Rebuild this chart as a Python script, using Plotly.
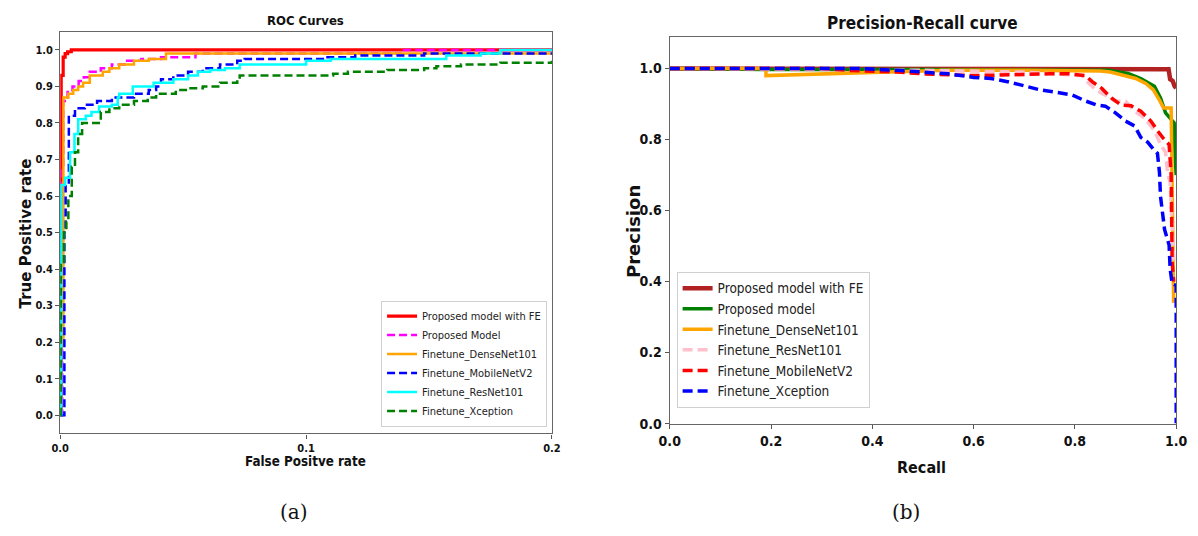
import plotly.graph_objects as go

# ---------------- ROC data (a) ----------------
roc_fe_fpr = [0, 0.0004, 0.0012, 0.002, 0.003, 0.0045, 0.2]
roc_fe_tpr = [0, 0.93, 0.98, 0.99, 0.995, 1.0, 1.0]

roc_pm_fpr = [0, 0.0008, 0.0012, 0.003, 0.005, 0.0075, 0.0096, 0.012, 0.0165, 0.021, 0.026, 0.033, 0.041, 0.055, 0.139, 0.2]
roc_pm_tpr = [0, 0.68, 0.86, 0.885, 0.9, 0.915, 0.925, 0.94, 0.95, 0.96, 0.97, 0.975, 0.98, 0.99, 1.0, 1.0]

roc_dn_fpr = [0, 0, 0.0013, 0.0033, 0.0053, 0.0073, 0.0093, 0.012, 0.0173, 0.02, 0.024, 0.03, 0.036, 0.043, 0.2]
roc_dn_tpr = [0, 0.19, 0.87, 0.88, 0.89, 0.9, 0.91, 0.93, 0.94, 0.95, 0.96, 0.97, 0.975, 0.99, 0.99]

roc_mn_fpr = [0, 0.0017, 0.0022, 0.0035, 0.006, 0.01, 0.015, 0.021, 0.03, 0.036, 0.039, 0.041, 0.046, 0.052, 0.058, 0.065, 0.072, 0.075, 0.108, 0.12, 0.148, 0.2]
roc_mn_tpr = [0, 0.5, 0.63, 0.82, 0.84, 0.85, 0.86, 0.87, 0.88, 0.89, 0.9, 0.92, 0.93, 0.94, 0.95, 0.96, 0.97, 0.975, 0.98, 0.985, 0.99, 0.99]

roc_rn_fpr = [0, 0.0004, 0.002, 0.004, 0.0058, 0.0073, 0.0104, 0.0127, 0.0158, 0.021, 0.0234, 0.024, 0.0295, 0.038, 0.046, 0.052, 0.056, 0.061, 0.067, 0.073, 0.10, 0.11, 0.157, 0.171, 0.179, 0.2]
roc_rn_tpr = [0, 0.63, 0.65, 0.72, 0.77, 0.81, 0.82, 0.83, 0.845, 0.85, 0.87, 0.88, 0.9, 0.91, 0.92, 0.93, 0.94, 0.945, 0.95, 0.96, 0.97, 0.975, 0.985, 0.99, 1.0, 1.0]

roc_xc_fpr = [0, 0.0002, 0.0015, 0.0025, 0.0033, 0.0047, 0.006, 0.0073, 0.0089, 0.0165, 0.02, 0.024, 0.03, 0.0356, 0.039, 0.047, 0.053, 0.058, 0.065, 0.072, 0.073, 0.111, 0.117, 0.133, 0.148, 0.153, 0.163, 0.179, 0.2]
roc_xc_tpr = [0, 0.42, 0.5, 0.53, 0.6, 0.68, 0.72, 0.77, 0.8, 0.83, 0.84, 0.85, 0.86, 0.87, 0.88, 0.89, 0.895, 0.9, 0.91, 0.92, 0.93, 0.935, 0.94, 0.945, 0.95, 0.955, 0.96, 0.965, 0.97]

roc_names = ["Proposed model with FE", "Proposed Model", "Finetune_DenseNet101",
             "Finetune_MobileNetV2", "Finetune_ResNet101", "Finetune_Xception"]
roc_x_ticks = [0.0, 0.1, 0.2]
roc_y_ticks = [0.0, 0.1, 0.2, 0.3, 0.4, 0.5, 0.6, 0.7, 0.8, 0.9, 1.0]

# ---------------- Precision-Recall data (b) ----------------
pr_fe_rec = [0, 0.83, 0.985, 0.988, 0.993, 0.997, 1.0]
pr_fe_pre = [1.0, 1.0, 0.998, 0.97, 0.965, 0.95, 0.945]

pr_pm_rec = [0, 0.2, 0.5, 0.7, 0.85, 0.866, 0.905, 0.93, 0.957, 0.969, 0.979, 0.988, 0.996, 0.998, 1.0]
pr_pm_pre = [1.0, 0.997, 0.997, 0.997, 0.996, 0.995, 0.986, 0.972, 0.95, 0.917, 0.875, 0.86, 0.847, 0.75, 0.70]

pr_dn_rec = [0, 0.19, 0.19, 0.3, 0.45, 0.55, 0.7, 0.85, 0.87, 0.9, 0.92, 0.94, 0.955, 0.968, 0.975, 0.99, 0.993, 0.995]
pr_dn_pre = [1.0, 1.0, 0.98, 0.985, 0.99, 0.995, 0.995, 0.993, 0.99, 0.98, 0.972, 0.958, 0.94, 0.908, 0.889, 0.889, 0.6, 0.34]

pr_rn_rec = [0, 0.3, 0.5, 0.7, 0.75, 0.8, 0.814, 0.828, 0.841, 0.86, 0.88, 0.9, 0.918, 0.938, 0.957, 0.969, 0.979, 0.983, 0.988, 0.992, 0.996]
pr_rn_pre = [1.0, 0.998, 0.995, 0.99, 0.985, 0.982, 0.98, 0.958, 0.94, 0.925, 0.908, 0.908, 0.88, 0.86, 0.825, 0.786, 0.764, 0.705, 0.68, 0.55, 0.45]

pr_mn_rec = [0, 0.3, 0.35, 0.45, 0.5, 0.6, 0.75, 0.789, 0.821, 0.834, 0.853, 0.872, 0.891, 0.911, 0.93, 0.95, 0.963, 0.973, 0.986, 0.99, 0.992, 0.995]
pr_mn_pre = [1.0, 1.0, 0.995, 0.99, 0.985, 0.98, 0.985, 0.985, 0.98, 0.963, 0.944, 0.917, 0.897, 0.895, 0.88, 0.852, 0.825, 0.806, 0.786, 0.7, 0.455, 0.4]

pr_xc_rec = [0, 0.3, 0.38, 0.45, 0.55, 0.6, 0.634, 0.667, 0.698, 0.731, 0.764, 0.795, 0.822, 0.841, 0.86, 0.88, 0.9, 0.918, 0.93, 0.944, 0.957, 0.963, 0.967, 0.969, 0.977, 0.986, 0.988, 0.992, 0.998, 1.0, 1.0]
pr_xc_pre = [1.0, 1.0, 1.0, 0.995, 0.985, 0.975, 0.972, 0.963, 0.952, 0.94, 0.933, 0.925, 0.908, 0.898, 0.894, 0.875, 0.852, 0.838, 0.806, 0.792, 0.769, 0.761, 0.706, 0.64, 0.547, 0.503, 0.436, 0.394, 0.39, 0.39, 0.0]

pr_names = ["Proposed model with FE", "Proposed model", "Finetune_DenseNet101",
            "Finetune_ResNet101", "Finetune_MobileNetV2", "Finetune_Xception"]
pr_x_ticks = [0.0, 0.2, 0.4, 0.6, 0.8, 1.0]
pr_y_ticks = [0.0, 0.2, 0.4, 0.6, 0.8, 1.0]

# The page body has an 8px margin, so the figure is sized to fill the rest of
# the 1198x536 window and screen positions are converted to paper fractions.
OFF = 8
W, H = 1198 - OFF, 536 - OFF


def px(sx):
    return (sx - OFF) / W


def py(sy):
    return 1 - (sy - OFF) / H


SANS = "DejaVu Sans Condensed, DejaVu Sans, sans-serif"
SANS_B = "DejaVu Sans, sans-serif"

fig = go.Figure()

roc_series = [
    (roc_fe_fpr, roc_fe_tpr, "red", "solid", 3.2),
    (roc_pm_fpr, roc_pm_tpr, "magenta", "8px,4px", 2.5),
    (roc_dn_fpr, roc_dn_tpr, "orange", "solid", 2.5),
    (roc_mn_fpr, roc_mn_tpr, "blue", "8px,4px", 2.5),
    (roc_rn_fpr, roc_rn_tpr, "cyan", "solid", 2.5),
    (roc_xc_fpr, roc_xc_tpr, "green", "8px,4px", 2.5),
]
for name, (xs, ys, col, dash, w) in zip(roc_names, roc_series):
    fig.add_trace(go.Scatter(x=xs, y=ys, mode="lines", name=name,
                             line=dict(color=col, dash=dash, width=w, shape="hv"),
                             xaxis="x", yaxis="y", legend="legend"))

pr_series = [
    (pr_fe_rec, pr_fe_pre, "firebrick", "solid", 4.5),
    (pr_pm_rec, pr_pm_pre, "green", "solid", 3.5),
    (pr_dn_rec, pr_dn_pre, "orange", "solid", 3.5),
    (pr_rn_rec, pr_rn_pre, "pink", "10px,5px", 3.5),
    (pr_mn_rec, pr_mn_pre, "red", "10px,5px", 3.5),
    (pr_xc_rec, pr_xc_pre, "blue", "10px,5px", 3.5),
]
for name, (xs, ys, col, dash, w) in zip(pr_names, pr_series):
    fig.add_trace(go.Scatter(x=xs, y=ys, mode="lines", name=name,
                             line=dict(color=col, dash=dash, width=w),
                             xaxis="x2", yaxis="y2", legend="legend2"))

axis_common = dict(showline=True, linecolor="#666", linewidth=1.2, mirror=True,
                   ticks="outside", ticklen=4, tickcolor="#555", showgrid=False,
                   zeroline=False)

fig.update_layout(
    width=W, height=H,
    margin=dict(l=0, r=0, t=0, b=0),
    paper_bgcolor="white", plot_bgcolor="white",
    xaxis=dict(domain=[px(50), px(551)], range=[0, 0.2], tickvals=roc_x_ticks,
               ticktext=["%.1f" % v for v in roc_x_ticks],
               tickfont=dict(family=SANS, size=11, color="#111", weight="bold"),
               anchor="y", **axis_common),
    yaxis=dict(domain=[py(440), py(32)], range=[-0.05, 1.05], tickvals=roc_y_ticks,
               ticktext=["%.1f" % v for v in roc_y_ticks],
               tickfont=dict(family=SANS, size=11, color="#111", weight="bold"),
               anchor="x", **axis_common),
    xaxis2=dict(domain=[px(671), px(1187)], range=[0, 1.0], tickvals=pr_x_ticks,
                ticktext=["%.1f" % v for v in pr_x_ticks],
                tickfont=dict(family=SANS, size=14, color="#111", weight="bold"),
                anchor="y2", **axis_common),
    yaxis2=dict(domain=[py(430), py(37)], range=[0, 1.09], tickvals=pr_y_ticks,
                ticktext=["%.1f" % v for v in pr_y_ticks],
                tickfont=dict(family=SANS, size=14, color="#111", weight="bold"),
                anchor="x2", **axis_common),
    legend=dict(x=px(546), y=py(433), xanchor="right", yanchor="bottom",
                bgcolor="rgba(255,255,255,0.9)", bordercolor="#d0d0d0", borderwidth=1,
                font=dict(family=SANS, size=11, color="#222"), tracegroupgap=0,
                itemwidth=30),
    legend2=dict(x=px(678), y=py(276), xanchor="left", yanchor="top",
                 bgcolor="rgba(255,255,255,0.9)", bordercolor="#d0d0d0", borderwidth=1,
                 font=dict(family=SANS, size=13.5, color="#222"), tracegroupgap=0,
                 itemwidth=30),
    showlegend=True,
)

ann = [
    dict(text="ROC Curves", sx=300, sy=21, size=13),
    dict(text="Precision-Recall curve", sx=929, sy=23, size=17),
    dict(text="False Positve rate", sx=300, sy=468, size=13.3),
    dict(text="Recall", sx=928, sy=475, size=16),
]
for a in ann:
    fig.add_annotation(text=a["text"], x=px(a["sx"]), y=py(a["sy"]), xref="paper", yref="paper",
                       xanchor="center", yanchor="middle", showarrow=False,
                       font=dict(family=SANS, size=a["size"], color="#111", weight="bold"))

fig.add_annotation(text="True Positive rate", x=px(15), y=py(237), xref="paper", yref="paper",
                   textangle=-90, showarrow=False, xanchor="center", yanchor="middle",
                   font=dict(family=SANS_B, size=15, color="#111", weight="bold"))
fig.add_annotation(text="Precision", x=px(634), y=py(235), xref="paper", yref="paper",
                   textangle=-90, showarrow=False, xanchor="center", yanchor="middle",
                   font=dict(family=SANS_B, size=18, color="#111", weight="bold"))

for t, sx in [("(a)", 288), ("(b)", 912)]:
    fig.add_annotation(text=t, x=px(sx), y=py(520), xref="paper", yref="paper",
                       showarrow=False, xanchor="center", yanchor="middle",
                       font=dict(family="DejaVu Serif, Liberation Serif, serif", size=20, color="#111"))

fig.write_html("out.html")
